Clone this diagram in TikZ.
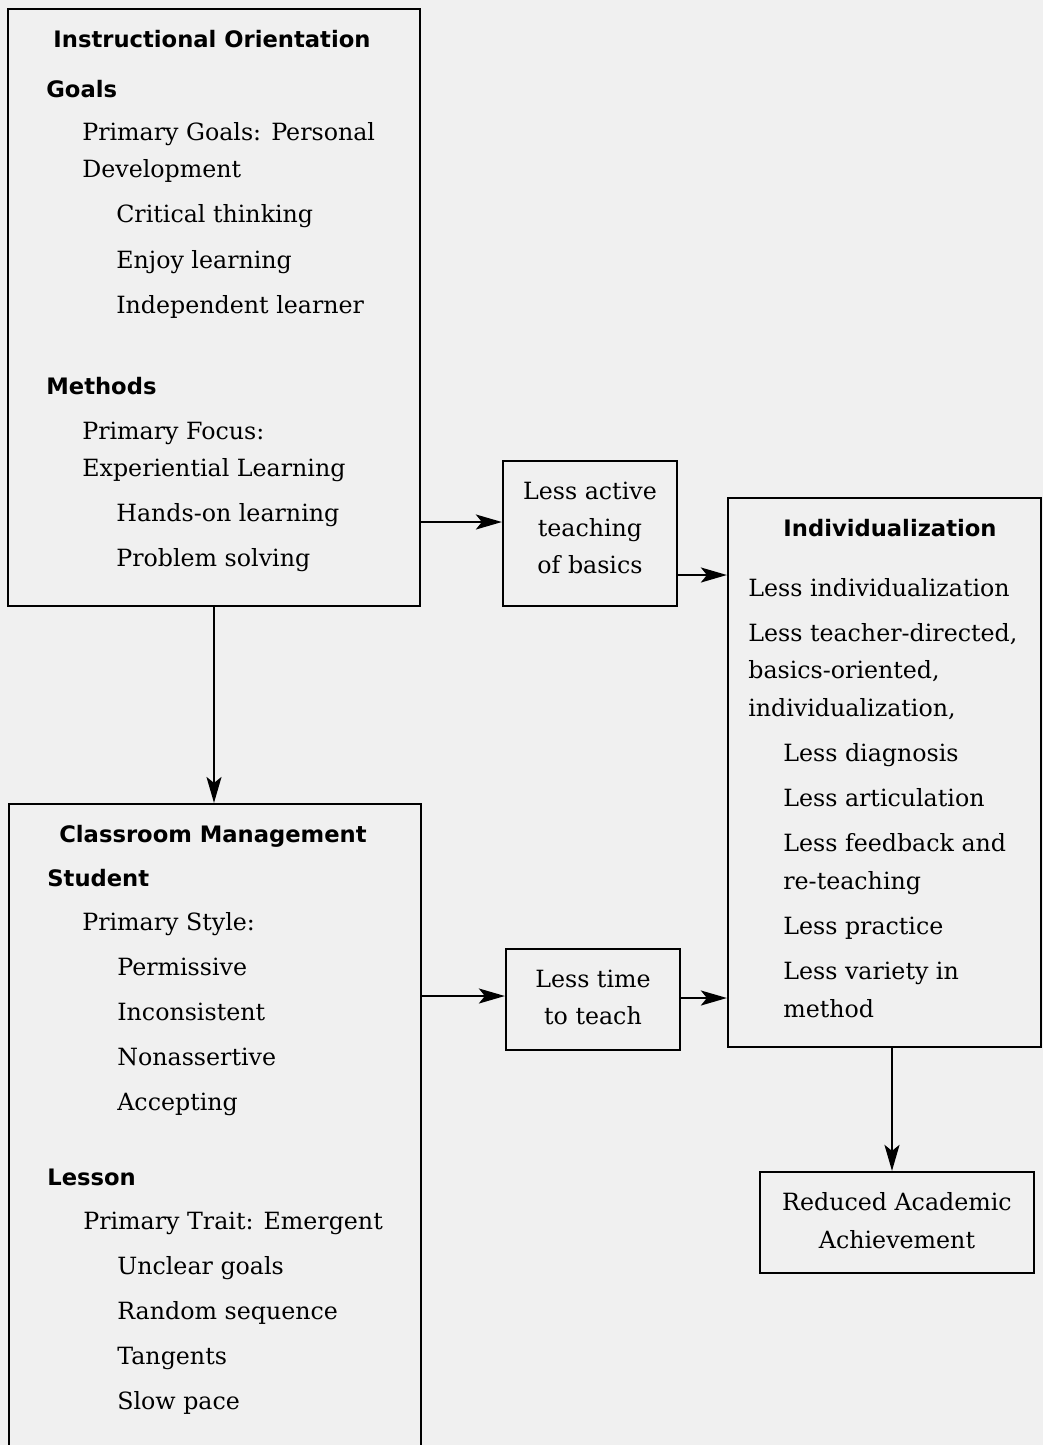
\documentclass[tikz,border=0pt]{standalone}
\usepackage{fontspec}
\setmainfont{DejaVu Serif}
\newfontfamily\headfont{DejaVu Sans}
\usetikzlibrary{arrows.meta}
\definecolor{paper}{HTML}{F0F0F0}
\tikzset{
  box/.style={draw, line width=1.3pt, inner sep=0pt},
  flow/.style={line width=1.2pt, -{Stealth[length=0.52cm, width=0.3cm, inset=0.12cm]}},
  item/.style={anchor=base west, inner sep=0pt, font=\fontsize{13.5}{16}\selectfont},
  mid/.style={anchor=base, inner sep=0pt, font=\fontsize{13.5}{16}\selectfont},
  head/.style={anchor=base west, inner sep=0pt, font=\headfont\bfseries\fontsize{12.9}{15}\selectfont},
  title/.style={anchor=base, inner sep=0pt, font=\headfont\bfseries\fontsize{12.9}{15}\selectfont},
}
\begin{document}
\begin{tikzpicture}[x=0.02cm, y=-0.02cm]
  \fill[paper] (0,0) rectangle (1043,1445);
  \useasboundingbox (0,0) rectangle (1043,1445);

  % boxes
  \node[box, minimum width=8.24cm, minimum height=11.94cm] (orient) at (214,307.5) {};
  \node[box, minimum width=8.24cm, minimum height=13.12cm] (manage) at (215,1132) {};
  \node[box, minimum width=3.48cm, minimum height=2.9cm] (basics) at (590,533.5) {};
  \node[box, minimum width=3.48cm, minimum height=2.02cm] (time) at (593,999.5) {};
  \node[box, minimum width=6.26cm, minimum height=10.98cm] (indiv) at (884.5,772.5) {};
  \node[box, minimum width=5.48cm, minimum height=2.02cm] (reduced) at (897,1222.5) {};

  % Instructional Orientation
  \node[title] (ioT) at (212,47) {Instructional Orientation};
  \node[head] (ioG) at (46,97) {Goals};
  \node[item] (ioG1) at (82,140) {Primary Goals: Personal};
  \node[item] (ioG2) at (82,177) {Development};
  \node[item] (ioG3) at (116,222) {Critical thinking};
  \node[item] (ioG4) at (116,268) {Enjoy learning};
  \node[item] (ioG5) at (116,313) {Independent learner};
  \node[head] (ioM) at (46,394) {Methods};
  \node[item] (ioM1) at (82,439) {Primary Focus:};
  \node[item] (ioM2) at (82,476) {Experiential Learning};
  \node[item] (ioM3) at (116,521) {Hands-on learning};
  \node[item] (ioM4) at (116,566) {Problem solving};

  % Classroom Management
  \node[title] (cmT) at (213,842) {Classroom Management};
  \node[head] (cmS) at (47,886) {Student};
  \node[item] (cmS1) at (82,930) {Primary Style:};
  \node[item] (cmS2) at (117,975) {Permissive};
  \node[item] (cmS3) at (117,1020) {Inconsistent};
  \node[item] (cmS4) at (117,1065) {Nonassertive};
  \node[item] (cmS5) at (117,1110) {Accepting};
  \node[head] (cmL) at (47,1185) {Lesson};
  \node[item] (cmL1) at (83,1229) {Primary Trait: Emergent};
  \node[item] (cmL2) at (117,1274) {Unclear goals};
  \node[item] (cmL3) at (117,1319) {Random sequence};
  \node[item] (cmL4) at (117,1364) {Tangents};
  \node[item] (cmL5) at (117,1409) {Slow pace};

  % middle boxes
  \node[mid] (ba1) at (590,499) {Less active};
  \node[mid] (ba2) at (590,536) {teaching};
  \node[mid] (ba3) at (590,573) {of basics};
  \node[mid] (tt1) at (593,987) {Less time};
  \node[mid] (tt2) at (593,1024) {to teach};

  % Individualization
  \node[title] (inT) at (890,536) {Individualization};
  \node[item] (in1) at (748,596) {Less individualization};
  \node[item] (in2) at (748,641) {Less teacher-directed,};
  \node[item] (in3) at (748,678) {basics-oriented,};
  \node[item] (in4) at (748,716) {individualization,};
  \node[item] (in5) at (783,761) {Less diagnosis};
  \node[item] (in6) at (783,806) {Less articulation};
  \node[item] (in7) at (783,851) {Less feedback and};
  \node[item] (in8) at (783,889) {re-teaching};
  \node[item] (in9) at (783,934) {Less practice};
  \node[item] (in10) at (783,979) {Less variety in};
  \node[item] (in11) at (783,1017) {method};

  \node[mid] (ra1) at (897,1210) {Reduced Academic};
  \node[mid] (ra2) at (897,1248) {Achievement};

  % arrows
  \coordinate (a1) at (0,522);
  \coordinate (a2) at (0,575);
  \coordinate (a3) at (0,996);
  \coordinate (a4) at (0,998);
  \coordinate (a5) at (892,0);
  \draw[flow] (orient.east |- a1) -- (basics.west |- a1);
  \draw[flow] (basics.east |- a2) -- (indiv.west |- a2);
  \draw[flow] (orient.south) -- (manage.north -| orient.south);
  \draw[flow] (manage.east |- a3) -- (time.west |- a3);
  \draw[flow] (time.east |- a4) -- (indiv.west |- a4);
  \draw[flow] (indiv.south -| a5) -- (reduced.north -| a5);
\end{tikzpicture}
\end{document}
